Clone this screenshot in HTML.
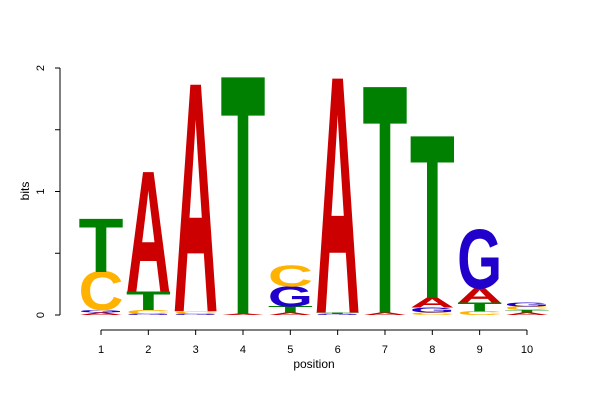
<!DOCTYPE html>
<html><head><meta charset="utf-8"><style>
html,body{margin:0;padding:0;background:#fff;}
svg text{font-family:"Liberation Sans",sans-serif;}
</style></head><body>
<svg id="chart" width="600" height="400" viewBox="0 0 600 400" xmlns="http://www.w3.org/2000/svg">
<g id="axes"></g>
<g id="letters"></g>
</svg>
<script>
const positions = [1,2,3,4,5,6,7,8,9,10];
// stacks bottom to top: [letter, bits]
const stacks = [
  [["A",0.02],["G",0.02],["C",0.31],["T",0.43]],
  [["G",0.01],["C",0.03],["T",0.15],["A",0.97]],
  [["G",0.01],["C",0.02],["A",1.84]],
  [["A",0.01],["T",1.92]],
  [["A",0.02],["T",0.05],["G",0.16],["C",0.17]],
  [["G",0.01],["T",0.01],["A",1.9]],
  [["A",0.02],["T",1.83]],
  [["C",0.02],["G",0.04],["A",0.08],["T",1.31]],
  [["C",0.03],["T",0.07],["A",0.12],["G",0.47]],
  [["A",0.02],["T",0.02],["C",0.03],["G",0.03]]
];
const yTicks = [0,0.5,1,1.5,2];
const yLabels = ["0","1","2"];
const colors = {A:"#CC0000",C:"#FFB300",G:"#2200CC",T:"#008000"};
const NS="http://www.w3.org/2000/svg";
const y0=315, pxPerBit=123.5;
function yScale(v){return y0 - v*pxPerBit;}
function xScale(p){return 101 + (p-1)*47.33;}
function mk(tag,attrs,parent){const e=document.createElementNS(NS,tag);for(const k in attrs)e.setAttribute(k,attrs[k]);parent.appendChild(e);return e;}
const axes=document.getElementById('axes');
const ax=mk('line',{x1:60,x2:60,y1:yScale(2),y2:yScale(0),stroke:'#000'},axes);


yTicks.forEach(t=>{const l=mk('line',{x1:55,x2:60,y1:yScale(t),y2:yScale(t),stroke:'#000'},axes);

});
yLabels.forEach(s=>{const y=yScale(+s);const t=mk('text',{x:0,y:0,'font-size':11,'text-anchor':'middle',transform:`translate(44,${y}) rotate(-90)`},axes);t.textContent=s;

});
const yt=mk('text',{x:0,y:0,'font-size':12,'text-anchor':'middle',transform:'translate(29,191) rotate(-90)'},axes);yt.textContent='bits';


const xa=mk('line',{x1:xScale(1),x2:xScale(10),y1:330,y2:330,stroke:'#000'},axes);


positions.forEach(p=>{const l=mk('line',{x1:xScale(p),x2:xScale(p),y1:330,y2:335,stroke:'#000'},axes);


const t=mk('text',{x:xScale(p),y:353,'font-size':11,'text-anchor':'middle'},axes);t.textContent=p;

});
const xt=mk('text',{x:314,y:368,'font-size':12,'text-anchor':'middle'},axes);xt.textContent='position';


const lg=document.getElementById('letters');
const W=45;
stacks.forEach((st,i)=>{let cum=0;const xc=xScale(positions[i]);
st.forEach(([L,v])=>{const yb=yScale(cum);const h=v*pxPerBit;cum+=v;
const t=mk('text',{x:0,y:0,'font-size':100,'font-weight':'bold',fill:colors[L],textLength:W,lengthAdjust:'spacingAndGlyphs',transform:`translate(${xc-W/2},${yb}) scale(1,${h/69})`},lg);
t.textContent=L;

});});
</script>
</body></html>
